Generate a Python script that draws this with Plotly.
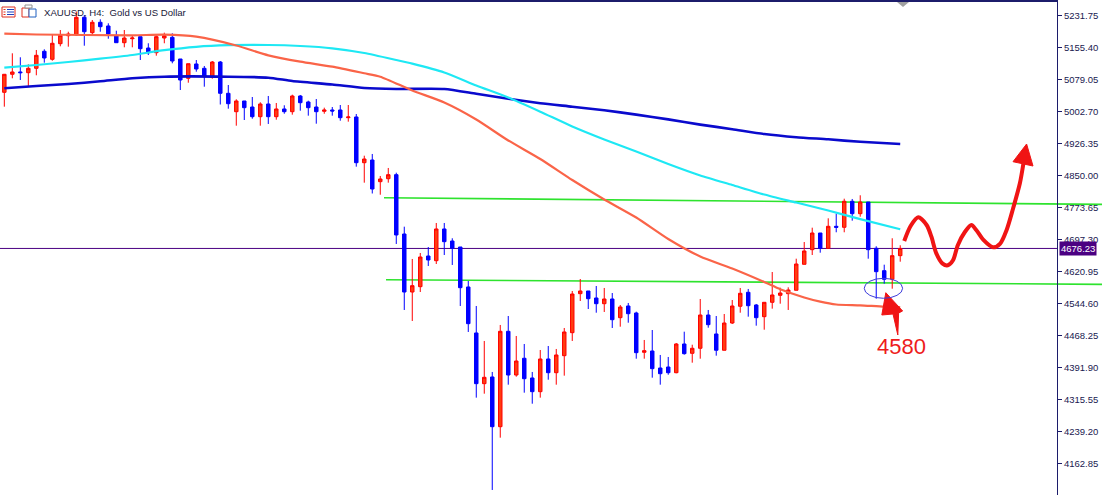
import plotly.graph_objects as go

# XAUUSD H4 candles (price units)
opens = [5048.9, 5091.9, 5097.4, 5095.7, 5106.2, 5146.8, 5127.7, 5164.9, 5184.0, 5185.7,
         5227.9, 5191.2, 5216.0, 5207.2, 5183.3, 5167.3, 5176.8, 5181.6, 5154.6, 5143.4,
         5178.5, 5180.2, 5128.4, 5082.3, 5116.5, 5106.2, 5085.4, 5121.2, 5046.5, 5002.6,
         5028.2, 5013.8, 4990.7, 5021.0, 4990.7, 5009.1, 5002.6, 5040.1, 5025.8, 5013.8,
         5003.6, 5006.7, 5006.7, 4988.3, 4990.0, 4880.9, 4887.3, 4835.6, 4842.7, 4852.3,
         4710.7, 4572.3, 4585.0, 4658.2, 4647.0, 4722.7, 4694.0, 4679.7, 4584.3, 4474.5,
         4353.5, 4369.5, 4250.8, 4478.5, 4374.2, 4414.1, 4367.1, 4334.4, 4412.4, 4379.7,
         4420.3, 4475.2, 4568.3, 4574.7, 4558.0, 4544.4, 4555.6, 4511.0, 4538.9, 4522.2,
         4428.4, 4431.5, 4390.9, 4393.3, 4379.7, 4448.2, 4426.0, 4438.0, 4517.4, 4472.1,
         4433.2, 4498.3, 4538.2, 4571.6, 4541.3, 4513.4, 4547.7, 4564.4, 4568.3, 4576.4,
         4638.4, 4673.3, 4713.1, 4676.6, 4729.1, 4726.7, 4788.8, 4759.2, 4787.1, 4676.6,
         4623.2, 4602.6, 4659.0]
highs = [5092.6, 5142.0, 5132.5, 5115.7, 5149.9, 5151.5, 5188.1, 5197.6, 5193.5, 5241.3,
         5233.4, 5221.5, 5223.1, 5213.6, 5195.9, 5197.6, 5185.7, 5181.6, 5165.9, 5185.0,
         5191.2, 5189.7, 5128.4, 5117.2, 5126.0, 5111.7, 5123.6, 5123.6, 5066.3, 5032.2,
         5028.2, 5037.7, 5025.1, 5040.1, 5023.4, 5017.9, 5043.2, 5042.5, 5028.9, 5032.9,
         5012.2, 5013.8, 5018.6, 5018.6, 4997.1, 4897.6, 4901.7, 4849.2, 4868.3, 4857.0,
         4728.2, 4651.1, 4665.4, 4679.7, 4737.0, 4737.0, 4700.5, 4679.7, 4598.6, 4538.9,
         4455.4, 4381.4, 4493.6, 4515.0, 4467.3, 4448.2, 4381.4, 4433.9, 4443.4, 4436.3,
         4486.4, 4574.7, 4603.3, 4574.7, 4586.6, 4581.9, 4569.9, 4541.3, 4546.1, 4525.3,
         4457.8, 4481.6, 4422.0, 4417.2, 4450.6, 4477.6, 4446.5, 4555.6, 4529.4, 4515.0,
         4519.8, 4553.2, 4581.9, 4579.5, 4543.7, 4547.7, 4620.0, 4582.6, 4583.5, 4651.8,
         4691.6, 4725.8, 4713.1, 4748.2, 4759.2, 4795.0, 4794.3, 4803.1, 4787.1, 4681.4,
         4637.5, 4700.5, 4683.8]
lows = [5014.6, 5082.3, 5078.3, 5064.0, 5089.5, 5119.6, 5124.3, 5158.7, 5157.8, 5183.3,
        5160.1, 5185.7, 5193.5, 5176.8, 5167.3, 5156.3, 5156.3, 5126.0, 5137.9, 5136.3,
        5165.9, 5118.1, 5054.4, 5071.8, 5098.1, 5062.3, 5081.4, 5019.8, 5009.8, 4969.2,
        4982.8, 4985.9, 4969.2, 4973.3, 4983.5, 4997.8, 4995.5, 5005.0, 4993.1, 4974.0,
        4997.8, 4993.1, 4981.1, 4978.8, 4871.4, 4833.2, 4807.4, 4804.5, 4833.2, 4686.9,
        4529.4, 4503.1, 4572.3, 4634.4, 4639.1, 4660.6, 4636.8, 4538.9, 4476.9, 4320.1,
        4329.6, 4099.8, 4224.6, 4351.1, 4370.2, 4332.0, 4305.7, 4320.1, 4363.0, 4351.1,
        4372.6, 4455.4, 4550.8, 4531.7, 4522.9, 4524.6, 4486.4, 4489.5, 4499.0, 4413.1,
        4413.1, 4367.8, 4351.1, 4374.9, 4378.3, 4422.7, 4403.6, 4413.1, 4487.1, 4420.3,
        4433.2, 4495.9, 4522.9, 4513.4, 4491.9, 4482.3, 4532.5, 4544.4, 4529.4, 4576.4,
        4638.4, 4660.6, 4666.1, 4676.6, 4714.8, 4714.8, 4742.5, 4752.0, 4651.8, 4556.3,
        4592.1, 4580.2, 4644.6]
closes = [5091.9, 5097.4, 5095.7, 5106.2, 5137.2, 5130.8, 5165.9, 5185.0, 5188.1, 5227.9,
          5193.5, 5216.0, 5205.5, 5188.1, 5167.3, 5178.5, 5178.5, 5153.0, 5143.4, 5181.6,
          5184.0, 5123.6, 5078.3, 5117.2, 5104.5, 5086.2, 5121.2, 5046.5, 5021.7, 5028.2,
          5012.2, 4990.7, 5021.0, 4990.7, 5009.1, 5002.6, 5040.1, 5024.1, 5012.2, 5002.6,
          5006.7, 5004.3, 4988.3, 4990.0, 4880.9, 4889.7, 4818.1, 4842.0, 4852.3, 4708.4,
          4572.3, 4587.4, 4655.8, 4648.7, 4722.7, 4692.4, 4676.6, 4582.6, 4496.7, 4353.5,
          4368.7, 4250.8, 4478.5, 4374.2, 4407.6, 4365.4, 4334.4, 4412.4, 4379.7, 4422.0,
          4476.9, 4567.5, 4574.7, 4556.3, 4544.4, 4555.6, 4506.2, 4536.5, 4520.5, 4427.5,
          4432.2, 4389.3, 4377.3, 4379.7, 4448.2, 4425.1, 4438.0, 4517.4, 4494.3, 4433.2,
          4498.3, 4538.9, 4569.2, 4539.6, 4511.0, 4547.7, 4565.2, 4569.9, 4577.1, 4639.1,
          4670.2, 4713.1, 4676.6, 4729.1, 4726.7, 4788.8, 4759.2, 4787.1, 4673.3, 4620.8,
          4602.6, 4659.0, 4676.23]
bars = list(range(len(opens)))

# moving averages, sampled at bar positions
ma_fast_x = [0, 4, 16, 20, 24, 29, 33, 37, 41, 45, 47, 51, 55, 59, 63, 67, 71, 75, 79, 83,
             87, 91, 95, 97, 100, 102, 104, 107, 110, 112]
ma_fast = [5188.8, 5186.9, 5185.0, 5186.4, 5181.6, 5160.6, 5137.2, 5122.0, 5110.0, 5094.3,
           5086.2, 5053.2, 5024.6, 4984.0, 4933.9, 4889.7, 4839.6, 4793.1, 4750.1, 4698.8,
           4657.0, 4628.4, 4596.2, 4578.8, 4559.2, 4549.2, 4542.5, 4540.6, 4537.2, 4536.5]
ma_mid_x = [0, 4, 8, 12, 16, 20, 24, 28, 33, 37, 41, 45, 49, 51, 55, 59, 63, 67, 71, 75,
            79, 83, 87, 91, 95, 99, 103, 107, 112]
ma_mid = [5107.6, 5114.1, 5121.2, 5129.1, 5137.9, 5149.4, 5157.5, 5161.3, 5161.8, 5159.4,
          5153.9, 5142.7, 5126.0, 5117.2, 5096.2, 5065.2, 5036.5, 5002.6, 4967.3, 4936.3,
          4907.6, 4877.8, 4850.4, 4827.7, 4805.0, 4785.9, 4766.8, 4746.1, 4722.0]
ma_slow_x = [0, 4, 8, 12, 16, 20, 28, 33, 36, 41, 45, 49, 55, 59, 63, 67, 71, 75, 79, 83,
             87, 91, 95, 99, 103, 107, 112]
ma_slow = [5058.5, 5064.0, 5068.7, 5075.2, 5082.3, 5086.2, 5086.2, 5083.8, 5075.9, 5067.5,
           5059.2, 5056.8, 5056.8, 5045.3, 5033.6, 5022.9, 5014.6, 5006.0, 4995.7, 4984.2,
           4971.8, 4960.9, 4949.4, 4941.8, 4936.7, 4930.8, 4925.5]

last_price = 4676.23
upper_level = [4797.4, 4781.4]
lower_level = [4601.7, 4590.5]

tick_vals = [5231.75, 5155.40, 5079.05, 5002.70, 4926.35, 4850.00, 4773.65, 4697.30,
             4620.95, 4544.60, 4468.25, 4391.90, 4315.55, 4239.20, 4162.85]

# hand-drawn projection (bar index, price)
wave_x = [112.5, 113.3, 114.25, 115.3, 115.9, 116.5, 117.3, 117.95, 118.6, 119.2, 120.1,
          120.9, 121.5, 122.4, 123.6, 124.5, 125.3, 126.1, 126.96, 127.4]
wave_y = [4694.0, 4729.8, 4750.6, 4732.2, 4704.3, 4665.0, 4640.0, 4636.0, 4648.0, 4684.0,
          4716.0, 4732.2, 4720.3, 4696.5, 4679.0, 4688.0, 4720.3, 4771.0, 4831.7, 4879.0]
head_x = [126.1, 127.8, 128.6, 127.3, 126.1]
head_y = [4883.3, 4925.5, 4873.0, 4878.0, 4883.3]
pointer_x = [110.2, 112.3, 111.8, 111.7, 111.1, 109.7, 110.2]
pointer_y = [4570.6, 4527.0, 4522.2, 4469.7, 4519.8, 4517.4, 4570.6]

Y_MIN, Y_MAX = 4087.8, 5269.2
X_MIN, X_MAX = -0.54, 131.6
W, H = 1102, 495
PLOT_W = 1057

NAVY = "#1c1c6b"
RED = "#f01414"


def px(x):
    return x / PLOT_W


def py(y):
    return 1 - y / H


fig = go.Figure()

fig.add_trace(go.Candlestick(
    x=bars, open=opens, high=highs, low=lows, close=closes,
    increasing=dict(line=dict(color="#ff0000", width=1), fillcolor="#ff3c10"),
    decreasing=dict(line=dict(color="#0000ff", width=1), fillcolor="#0000ff"),
    whiskerwidth=0, showlegend=False, hoverinfo="skip",
))

fig.add_trace(go.Scatter(x=ma_slow_x, y=ma_slow, mode="lines", line=dict(color="#0a0acd", width=2.6, shape="spline", smoothing=0.6),
                         showlegend=False, hoverinfo="skip"))
fig.add_trace(go.Scatter(x=ma_mid_x, y=ma_mid, mode="lines", line=dict(color="#1ee8f4", width=2.2, shape="spline", smoothing=0.6),
                         showlegend=False, hoverinfo="skip"))
fig.add_trace(go.Scatter(x=ma_fast_x, y=ma_fast, mode="lines", line=dict(color="#fa6448", width=2.2, shape="spline", smoothing=0.6),
                         showlegend=False, hoverinfo="skip"))

# projection drawing
fig.add_trace(go.Scatter(x=wave_x, y=wave_y, mode="lines", line=dict(color=RED, width=4, shape="spline", smoothing=0.8),
                         showlegend=False, hoverinfo="skip"))
fig.add_trace(go.Scatter(x=head_x, y=head_y, mode="lines", fill="toself", fillcolor=RED, line=dict(color=RED, width=1),
                         showlegend=False, hoverinfo="skip"))
fig.add_trace(go.Scatter(x=pointer_x, y=pointer_y, mode="lines", fill="toself", fillcolor=RED, line=dict(color=RED, width=1),
                         showlegend=False, hoverinfo="skip"))

shapes = [
    # levels
    dict(type="line", xref="paper", yref="y", x0=px(384), x1=px(W), y0=upper_level[0], y1=upper_level[1],
         line=dict(color="#2ee32e", width=1.6), layer="below"),
    dict(type="line", xref="paper", yref="y", x0=px(386), x1=px(W), y0=lower_level[0], y1=lower_level[1],
         line=dict(color="#2ee32e", width=1.6), layer="below"),
    dict(type="line", xref="paper", yref="y", x0=0, x1=1, y0=last_price, y1=last_price,
         line=dict(color="#4b0082", width=1), layer="below"),
    # ellipse around the low
    dict(type="circle", xref="x", yref="y", x0=107.5, x1=112.3, y0=4557.3, y1=4605.0,
         line=dict(color="#3c3cdc", width=1)),
    # top frame
    dict(type="rect", xref="paper", yref="paper", x0=0, x1=1, y0=py(2), y1=1,
         fillcolor=NAVY, line=dict(width=0)),
    # shift marker at top
    dict(type="path", xref="paper", yref="paper",
         path=f"M {px(897)} {py(2)} L {px(909)} {py(2)} L {px(903)} {py(7)} Z",
         fillcolor="#a0a0a0", line=dict(width=0)),
    # title icons
    dict(type="rect", xref="paper", yref="paper", x0=px(2), x1=px(15), y0=py(17), y1=py(7),
         line=dict(color="#e03020", width=1), fillcolor="white"),
    dict(type="rect", xref="paper", yref="paper", x0=px(22), x1=px(29), y0=py(17), y1=py(8),
         line=dict(color="#e03020", width=1), fillcolor="white"),
    dict(type="rect", xref="paper", yref="paper", x0=px(29), x1=px(36), y0=py(17), y1=py(9),
         line=dict(color="#2060c0", width=1), fillcolor="white"),
    dict(type="rect", xref="paper", yref="paper", x0=px(25), x1=px(32), y0=py(8), y1=py(5),
         line=dict(color="#909090", width=1), fillcolor="white"),
]
for yy in (9.5, 12, 14.5):
    shapes.append(dict(type="line", xref="paper", yref="paper", x0=px(3.5), x1=px(5.5), y0=py(yy), y1=py(yy),
                       line=dict(color="#e03020", width=1)))
    shapes.append(dict(type="line", xref="paper", yref="paper", x0=px(7), x1=px(14), y0=py(yy), y1=py(yy),
                       line=dict(color="#2040c0", width=1)))

annotations = [
    dict(text="XAUUSD, H4:  Gold vs US Dollar", xref="paper", yref="paper", x=px(42), y=py(12),
         xanchor="left", yanchor="middle", showarrow=False,
         font=dict(family="Liberation Sans, Arial, sans-serif", size=9.6, color="#20203a")),
    dict(text=f"{last_price:.2f}", xref="paper", yref="y", x=px(1059), y=last_price,
         xanchor="left", yanchor="middle", showarrow=False, bgcolor="#4b0082", borderpad=1,
         font=dict(family="Liberation Sans, Arial, sans-serif", size=9.5, color="white")),
    dict(text="4580", xref="x", yref="y", x=112.1, y=4442.2, xanchor="center", yanchor="middle",
         showarrow=False, font=dict(family="Liberation Sans, Arial, sans-serif", size=22, color="#ee1c1c")),
]

fig.update_layout(
    width=W, height=H,
    margin=dict(l=0, r=W - PLOT_W, t=0, b=0),
    paper_bgcolor="white", plot_bgcolor="white",
    boxgap=0.38,
    showlegend=False,
    hovermode=False,
    shapes=shapes,
    annotations=annotations,
    xaxis=dict(range=[X_MIN, X_MAX], rangeslider=dict(visible=False), showgrid=False, zeroline=False,
               showticklabels=False, ticks="", showline=False),
    yaxis=dict(range=[Y_MIN, Y_MAX], side="right", showgrid=False, zeroline=False,
               tickvals=tick_vals, ticktext=[f"{v:.2f}" for v in tick_vals],
               ticks="outside", ticklen=4, tickcolor=NAVY, showline=True, linecolor=NAVY, linewidth=1,
               tickfont=dict(family="Liberation Sans, Arial, sans-serif", size=9.5, color="#191950")),
)

# the page body has a default 8px margin; drop it so the chart sits at the window's corner
fig.write_html("out.html", config={"displayModeBar": False},
               post_script="document.body.style.margin='0';document.body.style.overflow='hidden';")
